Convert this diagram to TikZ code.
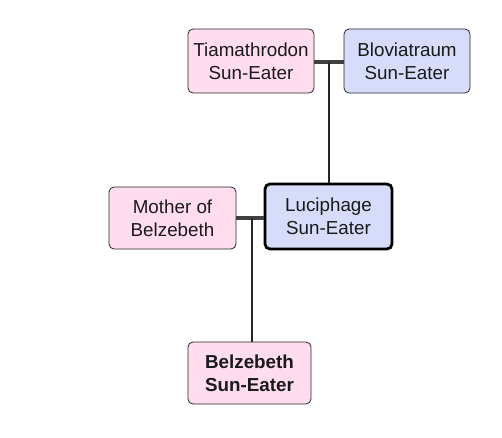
\documentclass[tikz,border=0pt]{standalone}
\usepackage{fontspec}
\setmainfont{Liberation Sans}
\definecolor{pinkf}{HTML}{FFDDEE}
\definecolor{bluef}{HTML}{D6DCFA}
\definecolor{txt}{HTML}{1A1A1A}
\begin{document}
\begin{tikzpicture}[x=1pt,y=-1pt,
  person/.style={draw=black!85,line width=0.8pt,rounded corners=5pt,align=center,
    font=\fontsize{18.8}{23}\selectfont,text=txt,inner sep=0pt},
  fem/.style={person,fill=pinkf},
  mal/.style={person,fill=bluef},
  marr/.style={line width=4pt,draw=black!75},
  desc/.style={line width=1.4pt,draw=black!85}]
\useasboundingbox (0,0) rectangle (502,437);
\node[fem,minimum width=126pt,minimum height=64pt] (tia) at (251,61) {Tiamathrodon\\Sun-Eater};
\node[mal,minimum width=126pt,minimum height=64pt] (blo) at (407,61) {Bloviatraum\\Sun-Eater};
\node[fem,minimum width=127pt,minimum height=62pt] (mot) at (172.5,218) {Mother of\\Belzebeth};
\node[mal,draw=black,line width=2.8pt,minimum width=127pt,minimum height=65pt] (luc) at (328.5,216.5) {Luciphage\\Sun-Eater};
\node[fem,minimum width=123pt,minimum height=62pt,font=\fontsize{18.8}{23}\selectfont\bfseries] (bel) at (249.5,373) {Belzebeth\\Sun-Eater};
\coordinate (m1) at (329,62);
\coordinate (m2) at (252,218);
\draw[marr] (tia.east |- m1) -- (blo.west |- m1);
\draw[desc] (m1) -- (m1 |- luc.north);
\draw[marr] (mot.east |- m2) -- (luc.west |- m2);
\draw[desc] (m2) -- (m2 |- bel.north);
\end{tikzpicture}
\end{document}
